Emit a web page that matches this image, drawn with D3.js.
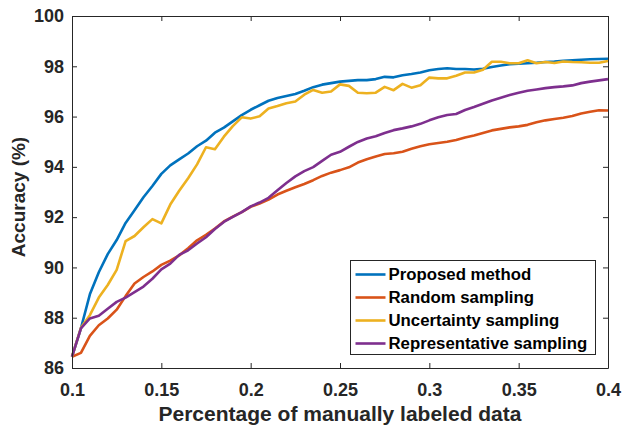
<!DOCTYPE html>
<html>
<head>
<meta charset="utf-8">
<script src="https://cdn.jsdelivr.net/npm/d3@7"></script>
<style>
body { margin: 0; background: #fff; }
svg text { font-family: "Liberation Sans", Arial, sans-serif; font-weight: bold; }
</style>
</head>
<body>
<div id="chart"></div>
<script>
// labeled fraction (x) and accuracy (%) of each method
const xValues = [0.1, 0.105, 0.11, 0.115, 0.12, 0.125, 0.13, 0.135, 0.14, 0.145,
    0.15, 0.155, 0.16, 0.165, 0.17, 0.175, 0.18, 0.185, 0.19, 0.195,
    0.2, 0.205, 0.21, 0.215, 0.22, 0.225, 0.23, 0.235, 0.24, 0.245,
    0.25, 0.255, 0.26, 0.265, 0.27, 0.275, 0.28, 0.285, 0.29, 0.295,
    0.3, 0.305, 0.31, 0.315, 0.32, 0.325, 0.33, 0.335, 0.34, 0.345,
    0.35, 0.355, 0.36, 0.365, 0.37, 0.375, 0.38, 0.385, 0.39, 0.395, 0.4];

const proposed = [86.45, 87.58, 88.93, 89.81, 90.53, 91.09, 91.77, 92.27, 92.79, 93.24,
    93.72, 94.06, 94.30, 94.53, 94.82, 95.04, 95.36, 95.56, 95.81, 96.06,
    96.27, 96.45, 96.63, 96.74, 96.82, 96.90, 97.03, 97.17, 97.27, 97.33,
    97.39, 97.42, 97.45, 97.45, 97.49, 97.58, 97.56, 97.64, 97.69, 97.75,
    97.84, 97.89, 97.92, 97.89, 97.89, 97.87, 97.90, 97.97, 98.03, 98.08,
    98.10, 98.12, 98.14, 98.17, 98.19, 98.22, 98.24, 98.26, 98.28, 98.29, 98.30];

const randomSampling = [86.45, 86.6, 87.28, 87.7, 87.97, 88.32, 88.86, 89.36, 89.62, 89.84,
    90.1, 90.27, 90.48, 90.76, 91.08, 91.3, 91.55, 91.83, 92.02, 92.2,
    92.41, 92.54, 92.7, 92.9, 93.05, 93.19, 93.32, 93.47, 93.64, 93.77,
    93.87, 93.98, 94.17, 94.3, 94.41, 94.51, 94.54, 94.6, 94.72, 94.82,
    94.9, 94.95, 95.0, 95.07, 95.17, 95.25, 95.35, 95.45, 95.51, 95.57,
    95.61, 95.67, 95.77, 95.85, 95.9, 95.95, 96.02, 96.12, 96.19, 96.25, 96.24];

const uncertaintySampling = [86.45, 87.6, 88.1, 88.8, 89.3, 89.9, 91.05, 91.25, 91.6, 91.92,
    91.75, 92.5, 93.05, 93.55, 94.1, 94.78, 94.70, 95.2, 95.62, 95.97,
    95.92, 96.01, 96.32, 96.42, 96.53, 96.60, 96.87, 97.06, 96.95, 97.0,
    97.28, 97.22, 96.95, 96.93, 96.95, 97.18, 97.05, 97.30, 97.15, 97.25,
    97.55, 97.52, 97.52, 97.62, 97.75, 97.75, 97.86, 98.18, 98.18, 98.12,
    98.12, 98.24, 98.12, 98.17, 98.13, 98.19, 98.17, 98.16, 98.14, 98.14, 98.21];

const representativeSampling = [86.45, 87.58, 87.97, 88.08, 88.36, 88.63, 88.8, 89.02, 89.24, 89.55,
    89.92, 90.15, 90.5, 90.68, 90.95, 91.2, 91.53, 91.81, 92.01, 92.2,
    92.43, 92.58, 92.77, 93.07, 93.36, 93.62, 93.83, 93.99, 94.24, 94.48,
    94.6, 94.8, 94.99, 95.13, 95.22, 95.35, 95.46, 95.53, 95.61, 95.71,
    95.85, 95.97, 96.06, 96.1, 96.26, 96.38, 96.51, 96.64, 96.75, 96.86,
    96.95, 97.03, 97.08, 97.13, 97.17, 97.2, 97.24, 97.33, 97.39, 97.44, 97.49];

const seriesNames = ["Proposed method", "Random sampling", "Uncertainty sampling", "Representative sampling"];
const seriesColors = ["#0072BD", "#D95319", "#EDB120", "#7E2F8E"];
const xTicks = [0.1, 0.15, 0.2, 0.25, 0.3, 0.35, 0.4];
const yTicks = [86, 88, 90, 92, 94, 96, 98, 100];

const series = [proposed, randomSampling, uncertaintySampling, representativeSampling];

const W = 624, H = 431;
const margin = {top: 16, right: 16, bottom: 63, left: 72};
const width = W - margin.left - margin.right;
const height = H - margin.top - margin.bottom;
const axisColor = "#262626";

const svg = d3.select("#chart").append("svg")
    .attr("width", W)
    .attr("height", H);

const g = svg.append("g")
    .attr("transform", `translate(${margin.left},${margin.top})`);

const x = d3.scaleLinear().domain([0.1, 0.4]).range([0, width]);
const y = d3.scaleLinear().domain([86, 100]).range([height, 0]);

const fmt = d => String(+d.toFixed(2));

function styleAxis(sel) {
    sel.select(".domain").attr("stroke", axisColor).attr("stroke-width", 1);
    sel.selectAll(".tick line").attr("stroke", axisColor);
    sel.selectAll(".tick text").attr("fill", axisColor).style("font-size", "18px");
}

// curves
const line = d3.line()
    .x((d, i) => x(xValues[i]))
    .y(d => y(d));

g.selectAll(".curve")
    .data(series)
    .enter()
    .append("path")
    .attr("class", "curve")
    .attr("fill", "none")
    .attr("stroke", (d, i) => seriesColors[i])
    .attr("stroke-width", 2.6)
    .attr("stroke-linejoin", "round")
    .attr("d", line);

// axes, box style with inward ticks
g.append("g")
    .attr("transform", `translate(0,${height})`)
    .call(d3.axisBottom(x).tickValues(xTicks).tickSize(-5).tickSizeOuter(0).tickPadding(15).tickFormat(fmt))
    .call(styleAxis);

g.append("g")
    .call(d3.axisLeft(y).tickValues(yTicks).tickSize(-5).tickSizeOuter(0).tickPadding(8))
    .call(styleAxis);

g.append("g")
    .call(d3.axisTop(x).tickValues(xTicks).tickSize(-5).tickSizeOuter(0).tickFormat(""))
    .call(styleAxis);

g.append("g")
    .attr("transform", `translate(${width},0)`)
    .call(d3.axisRight(y).tickValues(yTicks).tickSize(-5).tickSizeOuter(0).tickFormat(""))
    .call(styleAxis);

// axis labels
svg.append("text")
    .attr("x", margin.left + width / 2)
    .attr("y", 421)
    .attr("text-anchor", "middle")
    .attr("fill", axisColor)
    .style("font-size", "21px")
    .text("Percentage of manually labeled data");

svg.append("text")
    .attr("transform", `translate(25,${margin.top + height / 2 + 5}) rotate(-90)`)
    .attr("text-anchor", "middle")
    .attr("fill", axisColor)
    .style("font-size", "19px")
    .text("Accuracy (%)");

// legend
const legend = svg.append("g")
    .attr("transform", "translate(350.5,260.5)");

legend.append("rect")
    .attr("width", 245)
    .attr("height", 94)
    .attr("fill", "#fff")
    .attr("stroke", axisColor)
    .attr("stroke-width", 1);

const rows = legend.selectAll(".row")
    .data(seriesNames)
    .enter()
    .append("g")
    .attr("transform", (d, i) => `translate(0,${14 + i * 23})`);

rows.append("line")
    .attr("x1", 5).attr("x2", 35)
    .attr("stroke", (d, i) => seriesColors[i])
    .attr("stroke-width", 2.6);

rows.append("text")
    .attr("x", 38)
    .attr("dy", "0.35em")
    .attr("fill", "#000")
    .style("font-size", "16.8px")
    .text(d => d);
</script>
</body>
</html>
